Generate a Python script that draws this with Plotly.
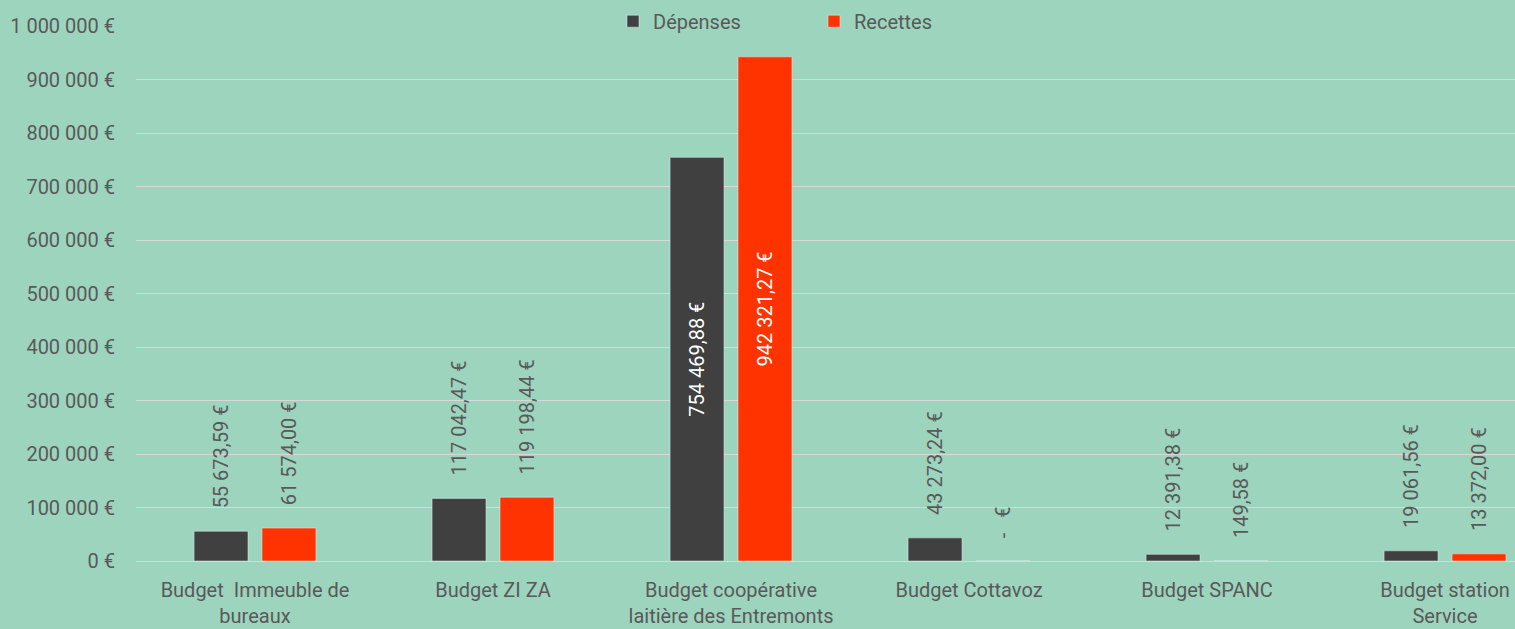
import plotly.graph_objects as go

categories = [
    "Budget  Immeuble de<br>bureaux",
    "Budget ZI ZA",
    "Budget coopérative<br>laitière des Entremonts",
    "Budget Cottavoz",
    "Budget SPANC",
    "Budget station<br>Service",
]
depenses = [55673.59, 117042.47, 754469.88, 43273.24, 12391.38, 19061.56]
recettes = [61574.00, 119198.44, 942321.27, 0.0, 149.58, 13372.00]
depenses_labels = ["55 673,59 €", "117 042,47 €", "754 469,88 €", "43 273,24 €", "12 391,38 €", "19 061,56 €"]
recettes_labels = ["61 574,00 €", "119 198,44 €", "942 321,27 €", "-   €", "149,58 €", "13 372,00 €"]

FONT = "Roboto, Lato, sans-serif"
GREY = "#595959"
BG = "#9DD4BE"
DARK = "#404040"
RED = "#FF3300"
BIG = 500000
FS = 20

def positions(vals):
    return ["inside" if v > BIG else "outside" for v in vals]

def texts(vals, labels):
    return [l if v > BIG else "\u00a0\u00a0\u00a0\u00a0" + l for v, l in zip(vals, labels)]

fig = go.Figure()
for name, vals, labels, color in [
    ("Dépenses", depenses, depenses_labels, DARK),
    ("Recettes", recettes, recettes_labels, RED),
]:
    fig.add_trace(go.Bar(
        name=name, x=categories, y=vals, marker_color=color,
        text=texts(vals, labels), textposition=positions(vals),
        textangle=-90, insidetextanchor="middle", constraintext="none",
        insidetextfont=dict(color="white", size=FS, family=FONT),
        outsidetextfont=dict(color=GREY, size=FS, family=FONT),
        cliponaxis=False, hoverinfo="skip",
    ))

fig.update_layout(
    width=1515, height=629,
    margin=dict(l=136, r=0, t=26, b=68),
    paper_bgcolor=BG, plot_bgcolor=BG,
    font=dict(family=FONT, size=FS, color=GREY),
    separators=", ",
    barmode="group", bargap=0.429, bargroupgap=0.206,
    showlegend=True,
    legend=dict(orientation="h", x=(613 - 136) / 1379, xanchor="left", y=1.009, yanchor="middle",
                bgcolor="rgba(0,0,0,0)", entrywidth=156, entrywidthmode="pixels",
                font=dict(size=FS, color=GREY, family=FONT), itemwidth=30),
)
fig.update_xaxes(type="category", range=[-0.5, 5.294], showgrid=False, showline=False,
                 ticks="", tickfont=dict(size=FS, color=GREY, family=FONT), ticklabelstandoff=15)
fig.update_yaxes(range=[0, 1000000], dtick=100000, tickformat=",d", ticksuffix=" €",
                 showgrid=True, gridcolor="#D9D9D9", gridwidth=1, zeroline=True,
                 zerolinecolor="#D9D9D9", zerolinewidth=1, showline=False, ticks="",
                 ticklabelstandoff=20, tickfont=dict(size=FS, color=GREY, family=FONT))

fig.write_html("out.html", config={"displayModeBar": False},
               post_script="document.body.style.margin='0';document.body.style.overflow='hidden';")
